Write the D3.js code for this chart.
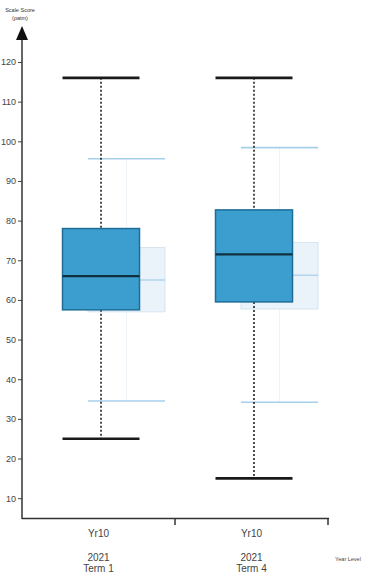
<!DOCTYPE html>
<html>
<head>
<meta charset="utf-8">
<script src="https://cdn.jsdelivr.net/npm/d3@7"></script>
<style>
  html, body { margin: 0; padding: 0; background: #fff; }
  svg { display: block; font-family: "Liberation Sans", Arial, sans-serif; }
</style>
</head>
<body>
<svg id="chart" width="371" height="574"></svg>
<script>
// Year level / period categories
const yearLevels = ["Yr10", "Yr10"];
const periodYears = ["2021", "2021"];
const periodTerms = ["Term 1", "Term 4"];

// Cohort box-plot statistics (scale score)
const cohortMin = [25, 15];
const cohortQ1 = [57.5, 59.5];
const cohortMedian = [66, 71.5];
const cohortQ3 = [78, 82.7];
const cohortMax = [116, 116];

// Comparison (norm) box-plot statistics
const normMin = [34.5, 34.2];
const normQ1 = [57, 57.7];
const normMedian = [65, 66.2];
const normQ3 = [73.2, 74.5];
const normMax = [95.6, 98.4];

// Axis ticks
const yTicks = [10, 20, 30, 40, 50, 60, 70, 80, 90, 100, 110, 120];

const svg = d3.select("#chart");
const left = 22, right = 328, bottom = 518;

const y = d3.scaleLinear().domain([5, 120]).range([bottom, 62]);
const x = d3.scaleBand().domain(d3.range(yearLevels.length)).range([left, right]);
const bw = x.bandwidth();

const boxes = d3.range(yearLevels.length).map(i => ({
  i,
  cx: x(i) + bw / 2,
  main: { min: cohortMin[i], q1: cohortQ1[i], med: cohortMedian[i], q3: cohortQ3[i], max: cohortMax[i] },
  norm: { min: normMin[i], q1: normQ1[i], med: normMedian[i], q3: normQ3[i], max: normMax[i] }
}));

const boxW = 77;
const mainOff = 2.5, normOff = 28;

// Comparison boxes, drawn behind
const ng = svg.append("g");
boxes.forEach(b => {
  const c = b.cx + normOff, s = b.norm;
  ng.append("line").attr("x1", c).attr("x2", c).attr("y1", y(s.max)).attr("y2", y(s.min))
    .attr("stroke", "#eef3f8").attr("stroke-width", 1);
  ng.append("rect").attr("x", c - boxW / 2).attr("width", boxW)
    .attr("y", y(s.q3)).attr("height", y(s.q1) - y(s.q3))
    .attr("fill", "#eaf2fa").attr("stroke", "#d5e4f1").attr("stroke-width", 1);
  ng.append("line").attr("x1", c - boxW / 2).attr("x2", c + boxW / 2)
    .attr("y1", y(s.med)).attr("y2", y(s.med))
    .attr("stroke", "#b3d4ea").attr("stroke-width", 1.5);
  [s.max, s.min].forEach(v => {
    ng.append("line").attr("x1", c - boxW / 2).attr("x2", c + boxW / 2)
      .attr("y1", y(v)).attr("y2", y(v))
      .attr("stroke", "#a6cfe8").attr("stroke-width", 1.6);
  });
});

// Cohort boxes
const mg = svg.append("g");
boxes.forEach(b => {
  const c = b.cx + mainOff, s = b.main;
  mg.append("line").attr("x1", c).attr("x2", c).attr("y1", y(s.max)).attr("y2", y(s.q3))
    .attr("stroke", "#222").attr("stroke-width", 1.6).attr("stroke-dasharray", "2,2");
  mg.append("line").attr("x1", c).attr("x2", c).attr("y1", y(s.q1)).attr("y2", y(s.min))
    .attr("stroke", "#222").attr("stroke-width", 1.6).attr("stroke-dasharray", "2,2");
  mg.append("rect").attr("x", c - boxW / 2).attr("width", boxW)
    .attr("y", y(s.q3)).attr("height", y(s.q1) - y(s.q3))
    .attr("fill", "#3b9ecf").attr("stroke", "#1d6d97").attr("stroke-width", 1.5);
  mg.append("line").attr("x1", c - boxW / 2).attr("x2", c + boxW / 2)
    .attr("y1", y(s.med)).attr("y2", y(s.med))
    .attr("stroke", "#10303f").attr("stroke-width", 2.2);
  [s.max, s.min].forEach(v => {
    mg.append("line").attr("x1", c - boxW / 2).attr("x2", c + boxW / 2)
      .attr("y1", y(v)).attr("y2", y(v))
      .attr("stroke", "#1a1a1a").attr("stroke-width", 2.6);
  });
});

// Y axis
const yAxis = svg.append("g").attr("transform", `translate(${left},0)`)
  .call(d3.axisLeft(y).tickValues(yTicks).tickSize(4).tickPadding(2));
yAxis.select(".domain").remove();
yAxis.selectAll(".tick line").attr("stroke", "#444").attr("stroke-width", 1);
yAxis.selectAll(".tick text").attr("fill", "#444").attr("font-size", 9)
  .attr("font-family", "Liberation Sans, Arial, sans-serif");
svg.append("line").attr("x1", left).attr("x2", left).attr("y1", 36).attr("y2", bottom + 1)
  .attr("stroke", "#333").attr("stroke-width", 1.5);
svg.append("path").attr("d", `M${left},26 L${left - 6},40 L${left + 6},40 Z`).attr("fill", "#111");
svg.append("text").attr("x", 20).attr("y", 12).attr("text-anchor", "middle")
  .attr("font-size", 5.5).attr("fill", "#333").text("Scale Score");
svg.append("text").attr("x", 20).attr("y", 20).attr("text-anchor", "middle")
  .attr("font-size", 5.5).attr("fill", "#333").text("(patm)");

// X axis
svg.append("line").attr("x1", left).attr("x2", right + 1).attr("y1", bottom + 0.5).attr("y2", bottom + 0.5)
  .attr("stroke", "#333").attr("stroke-width", 1.5);
boxes.forEach(b => {
  const xe = x(b.i) + bw;
  svg.append("line").attr("x1", xe).attr("x2", xe).attr("y1", bottom).attr("y2", bottom + 7)
    .attr("stroke", "#333").attr("stroke-width", 1.5);
  svg.append("text").attr("x", b.cx).attr("y", 537).attr("text-anchor", "middle")
    .attr("font-size", 10).attr("fill", "#444").text(yearLevels[b.i]);
  svg.append("text").attr("x", b.cx).attr("y", 561).attr("text-anchor", "middle")
    .attr("font-size", 10).attr("fill", "#444").text(periodYears[b.i]);
  svg.append("text").attr("x", b.cx).attr("y", 572).attr("text-anchor", "middle")
    .attr("font-size", 10).attr("fill", "#444").text(periodTerms[b.i]);
});
svg.append("text").attr("x", 348).attr("y", 561).attr("text-anchor", "middle")
  .attr("font-size", 5.5).attr("fill", "#444").text("Year Level");
</script>
</body>
</html>
